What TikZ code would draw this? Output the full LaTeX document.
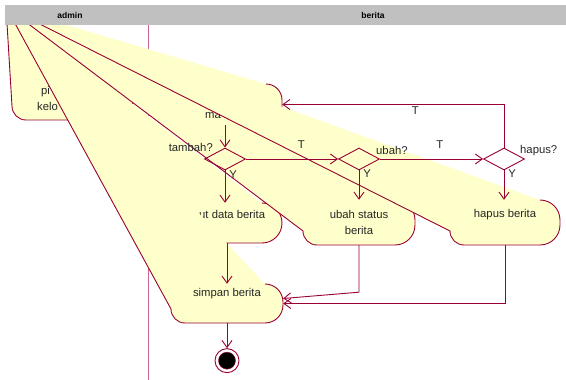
\documentclass[tikz,border=0pt]{standalone}
\usepackage{fontspec}
\setmainfont{Liberation Sans}
\usetikzlibrary{arrows.meta}
\usetikzlibrary{positioning}
\usetikzlibrary{calc}
\usetikzlibrary{fit}
\usetikzlibrary{shapes.geometric}

\definecolor{rosefill}{RGB}{255,255,204}
\definecolor{roseline}{RGB}{153,0,51}
\definecolor{laneline}{RGB}{204,102,153}
\definecolor{lanehead}{RGB}{192,192,192}

% activity state whose top-left corner slipped to (glitch)
% #1 name, #2 left, #3 top, #4 right, #5 bottom, #6 corner radius
\newcommand{\rosestate}[6]{%
    \fill[act-fill] (glitch) -- ({#4-#6},#3) to[out=0,in=90] (#4,{#3+#6})
        -- (#4,{#5-#6}) to[out=-90,in=0] ({#4-#6},#5)
        -- ({#2+14},#5) to[out=180,in=-90] (#2,{#5-14}) -- cycle;
    \draw[act-edge] ({#4-#6},#3) to[out=0,in=90] (#4,{#3+#6})
        -- (#4,{#5-#6}) to[out=-90,in=0] ({#4-#6},#5)
        -- ({#2+14},#5) to[out=180,in=-90] (#2,{#5-14}) -- (glitch);
    \coordinate (#1-nw) at (#2,#3);
    \coordinate (#1-se) at (#4,#5);
    \node[inner sep=0pt, fit=(#1-nw) (#1-se)] (#1) {};
}

\begin{document}
\begin{tikzpicture}[x=1pt, y=-1pt]
    \tikzstyle{act-fill}   = [fill=rosefill];
    \tikzstyle{act-edge}   = [draw=roseline, line width=0.9pt];
    \tikzstyle{act-text}   = [font=\fontsize{11.3}{16}\selectfont, text=black!85, inner sep=0pt];
    \tikzstyle{decision}   = [diamond, draw=roseline, line width=0.9pt, minimum width=41pt, minimum height=22pt, inner sep=0pt];
    \tikzstyle{guard}      = [font=\fontsize{11.3}{13}\selectfont, text=black!85, inner sep=1pt];
    \tikzstyle{flow}       = [draw=roseline, line width=0.9pt, -{Straight Barb[length=7pt, width=10pt]}];
    \tikzstyle{lane-title} = [font=\fontsize{8.5}{10}\selectfont\bfseries];
    \tikzstyle{final-ring} = [circle, draw=roseline, line width=0.9pt, fill=white, minimum size=24pt, inner sep=0pt];
    \tikzstyle{final-dot}  = [circle, draw=roseline, fill=black, minimum size=17pt, inner sep=0pt];

    \useasboundingbox (0,0) rectangle (566,380);
    \coordinate (glitch) at (6,7);

    % lane divider
    \draw[laneline, line width=0.9pt] (148,25) -- (148,380);

    %
    % Activity states
    %
    \rosestate{pilih}{12}{72}{133}{120}{20}
    \node[act-text, anchor=west, align=left] (pilih-label) at (37,98) {\hspace*{4pt}pi\\kelo};

    \rosestate{menu}{180}{84}{282}{125}{16}

    \rosestate{input}{185}{203}{282}{243}{20}
    \node[act-text, anchor=west] (input-label) at (199,214) {ut data berita};

    \rosestate{ubah}{303}{200}{415}{245}{20}
    \node[act-text, align=center] (ubah-label) at (359,222) {ubah status\\berita};
    \node[act-text, anchor=west] (menu-label) at (205,116) {ma};

    \rosestate{hapus}{450}{200}{560}{245}{20}
    \node[act-text] (hapus-label) at (505,215) {hapus berita};

    \rosestate{simpan}{171}{284}{283}{323}{18}
    \node[act-text] (simpan-label) at (227,294) {simpan berita};

    %
    % Swimlane header
    %
    \fill[lanehead] (5,5) rectangle (566,25);
    \node[lane-title] (admin-title)  at (70,15)  {admin};
    \node[lane-title] (berita-title) at (373,15) {berita};

    %
    % Decisions
    %
    \node[decision] (tambah-q) at (225,159) {};
    \node[decision] (ubah-q)   at (359,159) {};
    \node[decision] (hapus-q)  at (504,159) {};
    \node[guard, anchor=east] (tambah-q-label) at (214,147) {tambah?};
    \node[guard, anchor=west] (ubah-q-label)   at (375,150) {ubah?};
    \node[guard, anchor=west] (hapus-q-label)  at (519,151) {hapus?};

    %
    % Final state
    %
    \node[final-ring, below=25pt of simpan] (final) {};
    \node[final-dot] (final-dot) at (final) {};

    %
    % Transitions
    %
    \draw[flow] (tambah-q.north |- menu.south) -- (tambah-q.north);
    \draw[flow] (tambah-q.south) -- node[guard, pos=0.12, right=3pt] {Y} (tambah-q.south |- input.north);
    \draw[flow] (tambah-q.east) -- node[guard, pos=0.6, above=9pt] {T} (ubah-q.west);
    \draw[flow] (ubah-q.south) -- node[guard, pos=0.12, right=3pt] {Y} (ubah-q.south |- ubah.north);
    \draw[flow] (ubah-q.east) -- node[guard, pos=0.58, above=9pt] {T} (hapus-q.west);
    \draw[flow] (hapus-q.south) -- node[guard, pos=0.12, right=3pt] {Y} (hapus-q.south |- hapus.north);
    \draw[flow] (hapus-q.north) |- node[guard, pos=0.7, below=1pt] {T} (menu.east);
    \draw[flow] (simpan.north |- input.south) -- (simpan.north);
    \draw[flow] (ubah.south) -- ++(0,47) -- ($(simpan.east)+(0,-5)$);
    \draw[flow] (hapus.south) |- (simpan.east);
    \draw[flow] (final.north |- simpan.south) -- (final.north);
\end{tikzpicture}
\end{document}
